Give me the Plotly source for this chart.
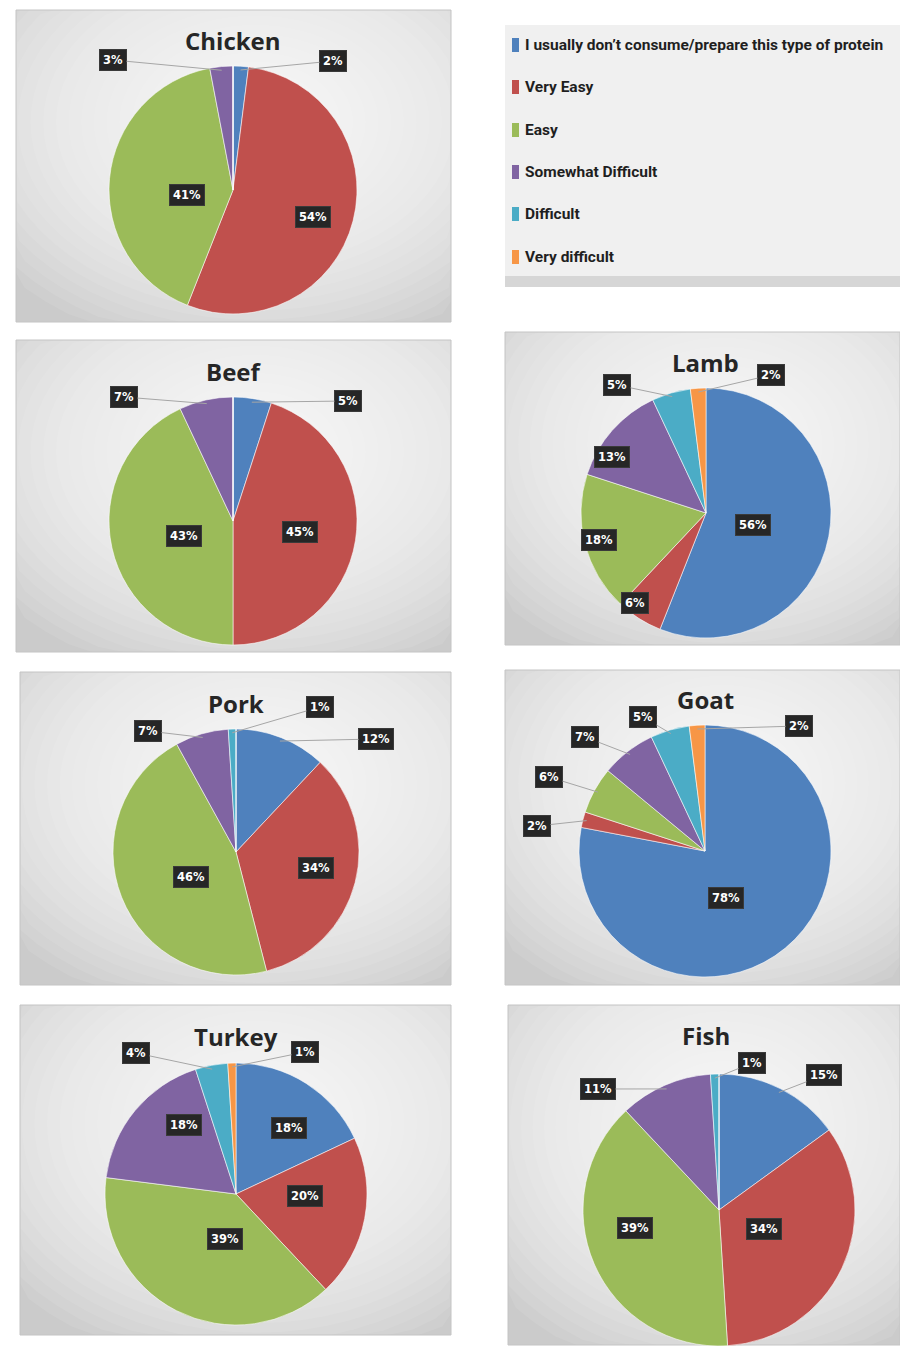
import math
import plotly.graph_objects as go

W, H = 900, 1350

# ---------------- data ----------------
categories = [
    "I usually don’t consume/prepare this type of protein",
    "Very Easy",
    "Easy",
    "Somewhat Difficult",
    "Difficult",
    "Very difficult",
]
colors = ["#4f81bd", "#c0504d", "#9bbb59", "#8064a2", "#4bacc6", "#f79646"]

proteins = ["Chicken", "Beef", "Lamb", "Pork", "Goat", "Turkey", "Fish"]
chicken = [2, 54, 41, 3, 0, 0]
beef = [5, 45, 43, 7, 0, 0]
lamb = [56, 6, 18, 13, 5, 2]
pork = [12, 34, 46, 7, 1, 0]
goat = [78, 2, 6, 7, 5, 2]
turkey = [18, 20, 39, 18, 4, 1]
fish = [15, 34, 39, 11, 1, 0]
series = [chicken, beef, lamb, pork, goat, turkey, fish]

# ---------------- layout (pixels) ----------------
panels = {
    "Chicken": (16, 10, 451, 322),
    "Beef": (16, 340, 451, 652),
    "Lamb": (505, 332, 900, 645),
    "Pork": (20, 672, 451, 985),
    "Goat": (505, 670, 900, 985),
    "Turkey": (20, 1005, 451, 1335),
    "Fish": (508, 1005, 900, 1345),
}
pie_geom = {  # centre x, centre y, radius
    "Chicken": (233, 190, 124),
    "Beef": (233, 521, 124),
    "Lamb": (706, 513, 125),
    "Pork": (236, 852, 123),
    "Goat": (705, 851, 126),
    "Turkey": (236, 1194, 131),
    "Fish": (719, 1210, 136),
}
title_pos = {
    "Chicken": (233, 40),
    "Beef": (233, 371),
    "Lamb": (705, 362),
    "Pork": (236, 703),
    "Goat": (705, 699),
    "Turkey": (236, 1036),
    "Fish": (706, 1035),
}
# per slice: ("in", radial fraction) or ("out", text x, text y) in pixels
label_place = {
    "Chicken": [("out", 333, 61), ("in", 0.52), ("in", 0.52), ("out", 113, 60), None, None],
    "Beef": [("out", 348, 401), ("in", 0.55), ("in", 0.55), ("out", 124, 397), None, None],
    "Lamb": [("in", 0.53), ("in", 0.85), ("in", 0.88), ("in", 0.81), ("out", 617, 385), ("out", 771, 375)],
    "Pork": [("out", 376, 739), ("in", 0.52), ("in", 0.55), ("out", 148, 731), ("out", 320, 707), None],
    "Goat": [("in", 0.48), ("out", 537, 826), ("out", 549, 777), ("out", 585, 737), ("out", 643, 717), ("out", 799, 726)],
    "Turkey": [("in", 0.5), ("in", 0.54), ("in", 0.48), ("in", 0.69), ("out", 136, 1053), ("out", 305, 1052)],
    "Fish": [("out", 824, 1075), ("in", 0.51), ("in", 0.53), ("out", 598, 1089), ("out", 752, 1063), None],
}
legend_panel = (505, 25, 900, 287)
legend_rows = [45, 87, 130, 172, 214, 257]


def px(x):
    return x / W


def py(y):
    return 1 - y / H


fig = go.Figure()
shapes = []
annotations = []


def clipped_ellipse_path(cx, cy, a, b, x0, y0, x1, y1, n=72):
    pts = []
    for i in range(n):
        t = 2 * math.pi * i / n
        x = min(max(cx + a * math.cos(t), x0), x1)
        y = min(max(cy + b * math.sin(t), y0), y1)
        pts.append(f"{px(x):.5f},{py(y):.5f}")
    return "M " + " L ".join(pts) + " Z"


def add_panel(x0, y0, x1, y1):
    shapes.append(dict(type="rect", xref="paper", yref="paper",
                       x0=px(x0), x1=px(x1), y0=py(y1), y1=py(y0),
                       fillcolor="#cbcbcb", line=dict(width=0), layer="below"))
    cx = x0 + (x1 - x0) * 0.55
    cy = y0 + (y1 - y0) * 0.36
    a = (x1 - x0) / 2
    b = (y1 - y0) / 2
    n = 24
    for k in range(n):
        s = 1.5 - k * (1.4 / n)
        shapes.append(dict(type="path", xref="paper", yref="paper",
                           path=clipped_ellipse_path(cx, cy, a * s, b * s, x0, y0, x1, y1),
                           fillcolor="white", opacity=0.085, line=dict(width=0), layer="below"))
    shapes.append(dict(type="rect", xref="paper", yref="paper",
                       x0=px(x0), x1=px(x1), y0=py(y1), y1=py(y0),
                       fillcolor="rgba(0,0,0,0)", line=dict(color="#c4c4c4", width=1), layer="below"))


label_font = dict(family="DejaVu Sans", size=11.5, color="white", weight="bold")

for name, vals in zip(proteins, series):
    add_panel(*panels[name])
    cx, cy, r = pie_geom[name]
    fig.add_trace(go.Pie(
        labels=categories, values=vals, sort=False, direction="clockwise", rotation=0,
        marker=dict(colors=colors, line=dict(color="rgba(255,255,255,0.7)", width=0.8)),
        textinfo="none", hoverinfo="skip", showlegend=False,
        domain=dict(x=[px(cx - r), px(cx + r)], y=[py(cy + r), py(cy - r)]),
    ))
    tx, ty = title_pos[name]
    annotations.append(dict(x=px(tx), y=py(ty), xref="paper", yref="paper", text=name,
                            showarrow=False, xanchor="center", yanchor="middle",
                            font=dict(family="Open Sans", size=24, color="#262626", weight="bold")))
    total = sum(vals)
    cum = 0
    for v, place in zip(vals, label_place[name]):
        if v == 0 or place is None:
            cum += v
            continue
        mid = (cum + v / 2) / total * 2 * math.pi
        cum += v
        sx, sy = math.sin(mid), -math.cos(mid)
        txt = f"{v}%"
        if place[0] == "in":
            f = place[1]
            annotations.append(dict(x=px(cx + f * r * sx), y=py(cy + f * r * sy),
                                    xref="paper", yref="paper", text=txt, showarrow=False,
                                    font=label_font, bgcolor="#262626", bordercolor="#3a3a3a",
                                    borderpad=3, borderwidth=1))
        else:
            tipx, tipy = cx + 0.97 * r * sx, cy + 0.97 * r * sy
            annotations.append(dict(x=px(tipx), y=py(tipy), xref="paper", yref="paper", text=txt,
                                    showarrow=True, arrowhead=0, arrowwidth=1, arrowcolor="#a6a6a6",
                                    ax=place[1] - tipx, ay=place[2] - tipy, standoff=0,
                                    font=label_font, bgcolor="#262626", bordercolor="#3a3a3a",
                                    borderpad=3, borderwidth=1))

# ---------------- legend panel ----------------
lx0, ly0, lx1, ly1 = legend_panel
shapes.append(dict(type="rect", xref="paper", yref="paper", x0=px(lx0), x1=px(lx1),
                   y0=py(ly1), y1=py(ly0), fillcolor="#f0f0f0", line=dict(width=0), layer="below"))
shapes.append(dict(type="rect", xref="paper", yref="paper", x0=px(lx0), x1=px(lx1),
                   y0=py(ly1), y1=py(ly1 - 11), fillcolor="#d6d6d6", line=dict(width=0), layer="below"))
for cat, col, ry in zip(categories, colors, legend_rows):
    shapes.append(dict(type="rect", xref="paper", yref="paper",
                       x0=px(512), x1=px(519), y0=py(ry + 7), y1=py(ry - 7),
                       fillcolor=col, line=dict(width=0)))
    annotations.append(dict(x=px(523), y=py(ry), xref="paper", yref="paper", text=cat,
                            showarrow=False, xanchor="left", yanchor="middle",
                            font=dict(family="Roboto", size=15.5, color="#1f1f1f", weight="bold")))

fig.update_layout(
    width=W, height=H, margin=dict(l=0, r=0, t=0, b=0),
    paper_bgcolor="white", plot_bgcolor="white",
    shapes=shapes, annotations=annotations, showlegend=False,
)

fig.write_html("out.html")
